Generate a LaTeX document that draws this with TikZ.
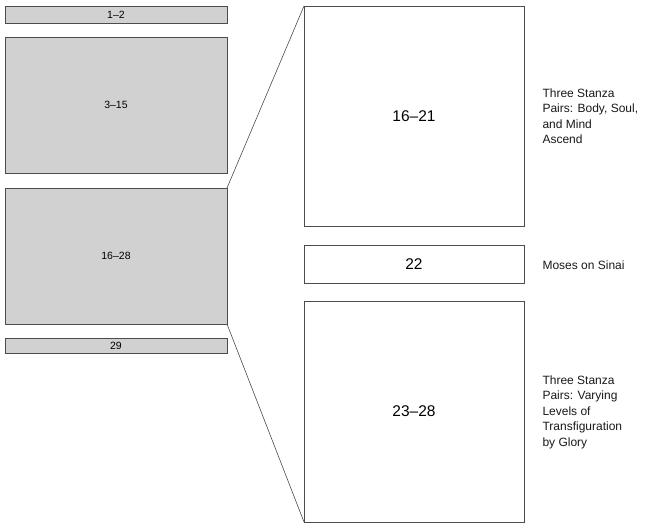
\documentclass[tikz,border=0pt]{standalone}
\usepackage{fontspec}
\setmainfont{Liberation Sans}
\begin{document}
\begin{tikzpicture}[x=1pt,y=-1pt,
  gbox/.style={draw=black!70,fill=black!18,line width=0.6pt},
  wbox/.style={draw=black!70,fill=white,line width=0.6pt},
  conn/.style={draw=black!70,line width=0.6pt},
  sm/.style={font=\fontsize{10.5}{12}\selectfont},
  bg/.style={font=\fontsize{15.5}{18}\selectfont},
  lbl/.style={anchor=west,align=left,font=\fontsize{12}{15.5}\selectfont,text=black!90}]
\useasboundingbox (0,0) rectangle (657,530);
\draw[gbox] (5,6) rectangle (227,23) node[midway,sm] (a) {1–2};
\draw[gbox] (5,37) rectangle (227,173) node[midway,sm] (b) {3–15};
\draw[gbox] (5,188) rectangle (227,324) node[midway,sm] (c) {16–28};
\draw[gbox] (5,338) rectangle (227,353) node[midway,sm] (d) {29};
\draw[wbox] (304,6) rectangle (524,226) node[midway,bg] (e) {16–21};
\draw[wbox] (304,245) rectangle (524,283) node[midway,bg] (f) {22};
\draw[wbox] (304,301) rectangle (524,522) node[midway,bg] (g) {23–28};
\coordinate (c1) at (227,188); \coordinate (c2) at (227,324);
\coordinate (e1) at (304,6); \coordinate (g1) at (304,522);
\draw[conn] (c1) -- (e1);
\draw[conn] (c2) -- (g1);
\node[lbl] (l1) at (539,116) {Three Stanza\\Pairs: Body, Soul,\\and Mind\\Ascend};
\node[lbl] (l2) at (539,265) {Moses on Sinai};
\node[lbl] (l3) at (539,412) {Three Stanza\\Pairs: Varying\\Levels of\\Transfiguration\\by Glory};
\end{tikzpicture}
\end{document}
